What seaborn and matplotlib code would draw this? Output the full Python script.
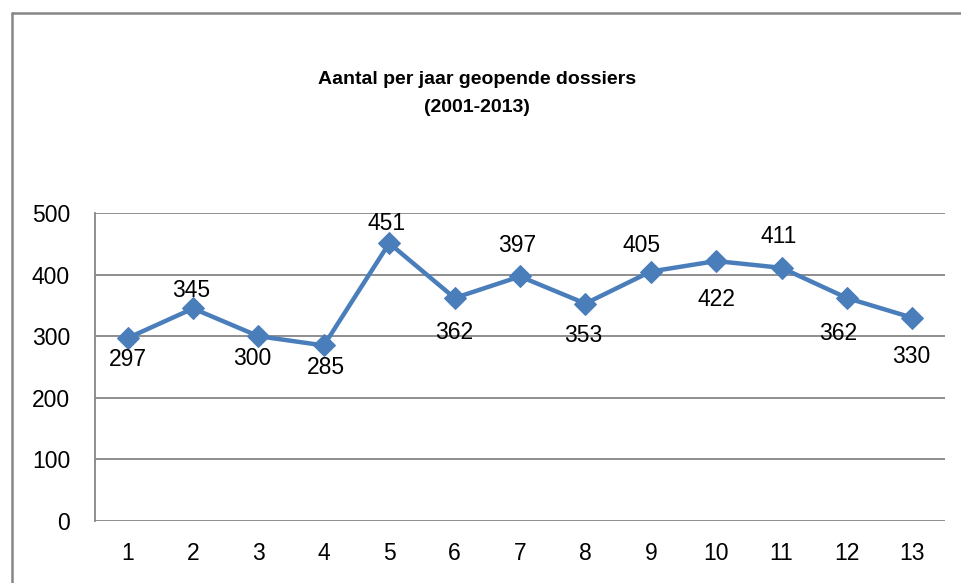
import matplotlib
matplotlib.use("Agg")
import matplotlib.pyplot as plt
from matplotlib.lines import Line2D
import seaborn as sns
import pandas as pd

# Data
years = [1, 2, 3, 4, 5, 6, 7, 8, 9, 10, 11, 12, 13]
counts = [297, 345, 300, 285, 451, 362, 397, 353, 405, 422, 411, 362, 330]
title_lines = ["Aantal per jaar geopende dossiers", "(2001-2013)"]
y_ticks = [0, 100, 200, 300, 400, 500]

# label offsets in pixels (dx, dy; positive dy = below)
label_offsets = [(0, 21), (-2, -18), (-6, 22), (2, 22), (-3, -20), (0, 34),
                 (-3, -31), (-2, 32), (-9, -26), (0, 38), (-3, -31), (-9, 35), (-1, 39)]

sns.set_style("white")
plt.rcParams['font.family'] = ['Liberation Sans', 'DejaVu Sans']

W, H = 962, 583
fig = plt.figure(figsize=(W / 100, H / 100), dpi=100)
ax = fig.add_axes([95 / W, 1 - 521 / H, (945 - 95) / W, (521 - 213) / H])

df = pd.DataFrame({"jaar": years, "aantal": counts})
color = "#4A7EBB"
sns.lineplot(data=df, x="jaar", y="aantal", ax=ax, color=color, linewidth=3.2,
             marker="D", markersize=11, markeredgecolor=color, markerfacecolor=color,
             zorder=3)

ax.set_xlim(0.5, 13.5)
ax.set_ylim(0, 500)
ax.set_xticks(years)
ax.set_xticklabels([str(y) for y in years])
ax.set_yticks(y_ticks)
ax.set_yticklabels([str(v) for v in y_ticks])
ax.set_xlabel("")
ax.set_ylabel("")
ax.tick_params(axis="both", length=0, labelsize=16.5, colors="black")
ax.tick_params(axis="y", pad=18)
ax.tick_params(axis="x", pad=15)

ax.grid(False)
for v in y_ticks:
    ax.axhline(v, color="#868686", linewidth=1.3, zorder=1)
for s in ["top", "right", "bottom"]:
    ax.spines[s].set_visible(False)
ax.spines["left"].set_color("#868686")
ax.spines["left"].set_linewidth(1.3)

for x, y, (dx, dy) in zip(years, counts, label_offsets):
    ax.annotate(str(y), (x, y), xytext=(dx * 0.72, -dy * 0.72), textcoords="offset points",
                ha="center", va="center", fontsize=16.5, color="black", zorder=4)

fig.text(477 / W, 1 - 79 / H, title_lines[0], ha="center", va="center",
         fontsize=14, fontweight="bold", color="black")
fig.text(477 / W, 1 - 107 / H, title_lines[1], ha="center", va="center",
         fontsize=14, fontweight="bold", color="black")

# outer chart frame
fig.add_artist(Line2D([12 / W, 12 / W], [0, 1 - 13 / H], color="#868686", linewidth=1.8,
                      transform=fig.transFigure))
fig.add_artist(Line2D([12 / W, 1], [1 - 13 / H, 1 - 13 / H], color="#868686", linewidth=1.8,
                      transform=fig.transFigure))

fig.savefig("out.png", dpi=100)
